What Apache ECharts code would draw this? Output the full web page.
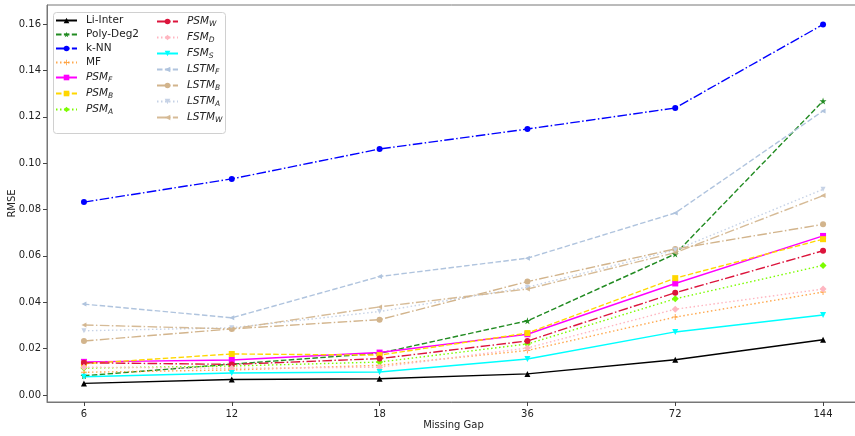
<!DOCTYPE html>
<html><head><meta charset="utf-8">
<script src="https://cdn.jsdelivr.net/npm/echarts@6/dist/echarts.min.js"></script>
<style>html,body{margin:0;padding:0;background:#fff}#c{width:855px;height:436px}</style>
</head><body><div id="c"></div>
<script>
const categories = ['6','12','18','36','72','144'];
const yTicks = [0,0.02,0.04,0.06,0.08,0.10,0.12,0.14,0.16];

const liInter  = [0.0050,0.0067,0.0070,0.0091,0.0152,0.0238];
const polyDeg2 = [0.0083,0.0133,0.0180,0.0320,0.0608,0.1268];
const knn      = [0.0832,0.0932,0.1061,0.1147,0.1238,0.1598];
const mf       = [0.0098,0.0108,0.0128,0.0192,0.0336,0.0444];
const psmF     = [0.0143,0.0151,0.0183,0.0262,0.0481,0.0686];
const psmB     = [0.0135,0.0177,0.0172,0.0267,0.0504,0.0672];
const psmA     = [0.0116,0.0125,0.0142,0.0220,0.0415,0.0559];
const psmW     = [0.0139,0.0132,0.0157,0.0233,0.0441,0.0622];
const fsmD     = [0.0120,0.0115,0.0120,0.0203,0.0370,0.0457];
const fsmS     = [0.0079,0.0095,0.0099,0.0155,0.0272,0.0345];
const lstmF    = [0.0392,0.0333,0.0511,0.0590,0.0785,0.1225];
const lstmB    = [0.0233,0.0285,0.0325,0.0489,0.0630,0.0736];
const lstmA    = [0.0277,0.0290,0.0360,0.0465,0.0625,0.0887];
const lstmW    = [0.0302,0.0285,0.0380,0.0457,0.0614,0.0860];

const DASH = [5.5,2.4], DOT = [1.5,2.5], DASHDOT = [9.6,2.4,1.5,2.4];
const STAR = 'path://M50,0 L61,35 L98,35 L68,57 L79,91 L50,70 L21,91 L32,57 L2,35 L39,35 Z';
const PLUS = 'path://M42,0 H58 V42 H100 V58 H58 V100 H42 V58 H0 V42 H42 Z';
const TRI = 'triangle';

function pts(arr){ return arr.map((v,i)=>[i,v]); }
function ser(name, data, color, type, symbol, size, rotate, opacity){
  return {name, type:'line', data:pts(data), symbol, symbolSize:size, symbolRotate:rotate||0,
    lineStyle:{color, width:1.4, type, opacity:opacity||1},
    itemStyle:{color, opacity:opacity||1}, emphasis:{disabled:true}, animation:false};
}
const series = [
  ser('Li-Inter', liInter, '#000000', 'solid', TRI, 6),
  ser('Poly-Deg2', polyDeg2, '#228b22', DASH, STAR, 7),
  ser('k-NN', knn, '#0000ff', DASHDOT, 'circle', 6),
  ser('MF', mf, '#ff9a30', DOT, PLUS, 6, 0, 0.85),
  ser('PSM_F', psmF, '#ff00ff', 'solid', 'rect', 6),
  ser('PSM_B', psmB, '#ffd700', DASH, 'rect', 6),
  ser('PSM_A', psmA, '#7cfc00', DOT, 'diamond', 7),
  ser('PSM_W', psmW, '#dc143c', DASHDOT, 'circle', 6),
  ser('FSM_D', fsmD, '#ffb6c1', DOT, 'diamond', 7),
  ser('FSM_S', fsmS, '#00ffff', 'solid', TRI, 6, 180),
  ser('LSTM_F', lstmF, '#b0c4de', DASH, TRI, 5, 90),
  ser('LSTM_B', lstmB, '#d2b48c', DASHDOT, 'circle', 6),
  ser('LSTM_A', lstmA, '#c6d2e6', DOT, TRI, 5, 180),
  ser('LSTM_W', lstmW, '#d2b48c', DASHDOT, TRI, 5, 90, 0.9)
];

const rich = {
  n:{fontFamily:'DejaVu Sans', fontSize:10.5, color:'#222', lineHeight:14},
  i:{fontFamily:'DejaVu Sans', fontSize:10.5, fontStyle:'italic', color:'#222', lineHeight:14},
  s:{fontFamily:'DejaVu Sans', fontSize:7.5, fontStyle:'italic', color:'#222', lineHeight:14, padding:[5,0,0,0]}
};
function fmt(name){
  const k = name.indexOf('_');
  if(k<0) return '{n|'+name+'}';
  return '{i|'+name.slice(0,k)+'}{s|'+name.slice(k+1)+'}';
}
function legend(names, left){
  return {data:names, orient:'vertical', left, top:15, padding:0, itemWidth:21, itemHeight:7, itemGap:3.0,
    formatter:fmt, textStyle:{rich, padding:[0,0,0,4]}, selectedMode:false, z:10};
}

const chart = echarts.init(document.getElementById('c'), null, {renderer:'canvas'});
chart.setOption({
  animation:false,
  backgroundColor:'#fff',
  grid:{left:47, right:-5, top:5, bottom:34, show:true, borderColor:'#777', borderWidth:1, outerBoundsMode:'none', containLabel:false},
  graphic:[{type:'rect', left:53, top:12, shape:{width:172, height:121, r:3},
    style:{fill:'rgba(255,255,255,0.8)', stroke:'#d0d0d0', lineWidth:1}, z:5}],
  legend:[
    legend(series.slice(0,7).map(s=>s.name), 55),
    legend(series.slice(7).map(s=>s.name), 156)
  ],
  xAxis:{type:'value', min:-0.25, max:5.25,
    name:'Missing Gap', nameLocation:'middle', nameGap:18, nameMoveOverlap:false,
    nameTextStyle:{fontFamily:'DejaVu Sans', fontSize:10, color:'#222'},
    axisLine:{onZero:false, lineStyle:{color:'#777'}},
    axisTick:{customValues:[0,1,2,3,4,5], length:4, lineStyle:{color:'#444'}},
    axisLabel:{customValues:[0,1,2,3,4,5], formatter:v=>categories[Math.round(v)], fontFamily:'DejaVu Sans', fontSize:10, color:'#222', margin:7},
    splitLine:{show:false}},
  yAxis:{type:'value', min:-0.00302, max:0.1682,
    name:'RMSE', nameLocation:'middle', nameGap:30, nameRotate:90, nameMoveOverlap:false,
    nameTextStyle:{fontFamily:'DejaVu Sans', fontSize:10, color:'#222'},
    axisLine:{show:true, onZero:false, lineStyle:{color:'#777'}},
    axisTick:{show:true, customValues:yTicks, length:4, lineStyle:{color:'#444'}},
    axisLabel:{customValues:yTicks, formatter:v=>v.toFixed(2), fontFamily:'DejaVu Sans', fontSize:10, color:'#222', margin:6},
    splitLine:{show:false}},
  series
});
</script></body></html>
